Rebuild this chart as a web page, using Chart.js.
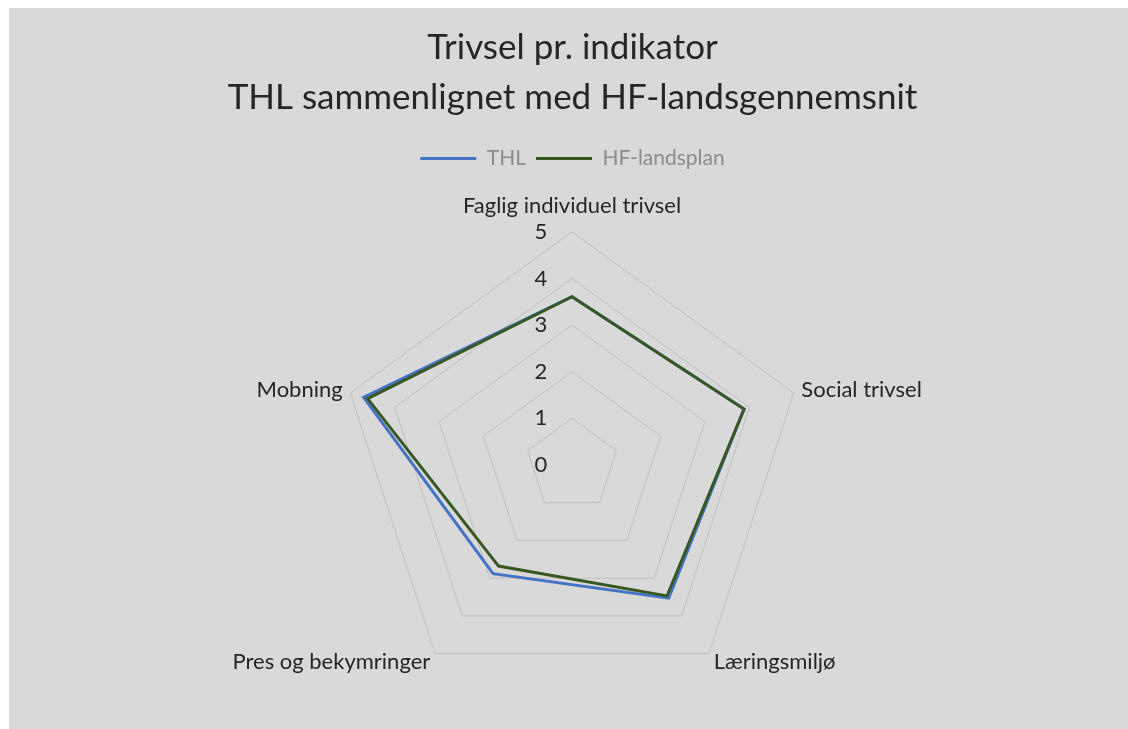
<!DOCTYPE html>
<html>
<head>
<meta charset="utf-8">
<script src="https://cdn.jsdelivr.net/npm/chart.js@4/dist/chart.umd.min.js"></script>
<style>
    body { margin: 0; background: #ffffff; overflow: hidden; }
    #radarChart { position: absolute; left: 9px; top: 8px; background: #d9d9d9; }
</style>
</head>
<body>
<canvas id="radarChart" width="1119" height="721"></canvas>
<script>
const labels = [
    'Faglig individuel trivsel',
    'Social trivsel',
    'Læringsmiljø',
    'Pres og bekymringer',
    'Mobning',
];

const thlValues = [3.61, 3.88, 3.53, 2.88, 4.70];
const hfValues = [3.61, 3.88, 3.47, 2.68, 4.61];

const tickLabels = ['0', '1', '2', '3', '4', '5'];

// excel-style tick numbers, left of the vertical axis (chart.js skips the 0)
const tickPlugin = {
    id: 'tickText',
    afterDatasetsDraw(chart) {
        const scale = chart.scales.r;
        const ctx = chart.ctx;
        ctx.save();
        ctx.font = '22px Lato';
        ctx.fillStyle = '#262626';
        ctx.textAlign = 'center';
        ctx.textBaseline = 'middle';
        tickLabels.forEach((t) => {
            const d = scale.getDistanceFromCenterForValue(Number(t));
            ctx.fillText(t, scale.xCenter - 31, scale.yCenter - d);
        });
        ctx.restore();
    }
};

const data = {
    labels: labels,
    datasets: [{
        label: 'THL',
        borderColor: '#4472c4',
        backgroundColor: '#4472c4',
        data: thlValues,
        order: 1,
    }, {
        label: 'HF-landsplan',
        borderColor: '#385723',
        backgroundColor: '#385723',
        data: hfValues,
        order: 0,
    }]
};

const config = {
    type: 'radar',
    data: data,
    plugins: [tickPlugin],
    options: {
        responsive: false,
        animation: false,
        layout: {
            padding: { left: 8, bottom: 11 }
        },
        elements: {
            line: { borderWidth: 3, tension: 0, fill: false },
            point: { radius: 0, hoverRadius: 0 }
        },
        scales: {
            r: {
                min: 0,
                max: 5,
                ticks: { display: false, stepSize: 1 },
                angleLines: { display: false },
                grid: { color: '#bfbfbf', lineWidth: 1 },
                pointLabels: {
                    color: '#262626',
                    // small line heights so the side labels sit centred like in excel
                    font: (c) => ({
                        family: 'Lato',
                        size: 22,
                        lineHeight: c.index === 0 ? 0.9 : (c.index === 1 || c.index === 4 ? 0.05 : 0.2)
                    }),
                    padding: (c) => c.index === 0 ? 16 : 8
                }
            }
        },
        plugins: {
            title: {
                display: true,
                text: ['Trivsel pr. indikator', 'THL sammenlignet med HF-landsgennemsnit'],
                color: '#262626',
                font: { family: 'Lato', size: 35, weight: 'normal', lineHeight: 1.43 },
                padding: { top: 15, bottom: 15 }
            },
            legend: {
                position: 'top',
                labels: {
                    color: '#8c8c8c',
                    font: { family: 'Lato', size: 21 },
                    boxWidth: 56,
                    boxHeight: 3,
                    padding: 10,
                    sort: (a, b) => a.datasetIndex - b.datasetIndex,
                    generateLabels: (chart) => Chart.defaults.plugins.legend.labels.generateLabels(chart).map((item) => {
                        item.lineWidth = 0;
                        return item;
                    })
                }
            },
            tooltip: { enabled: false }
        }
    }
};

const radarChart = new Chart(
    document.getElementById('radarChart'),
    config
);
</script>
</body>
</html>
